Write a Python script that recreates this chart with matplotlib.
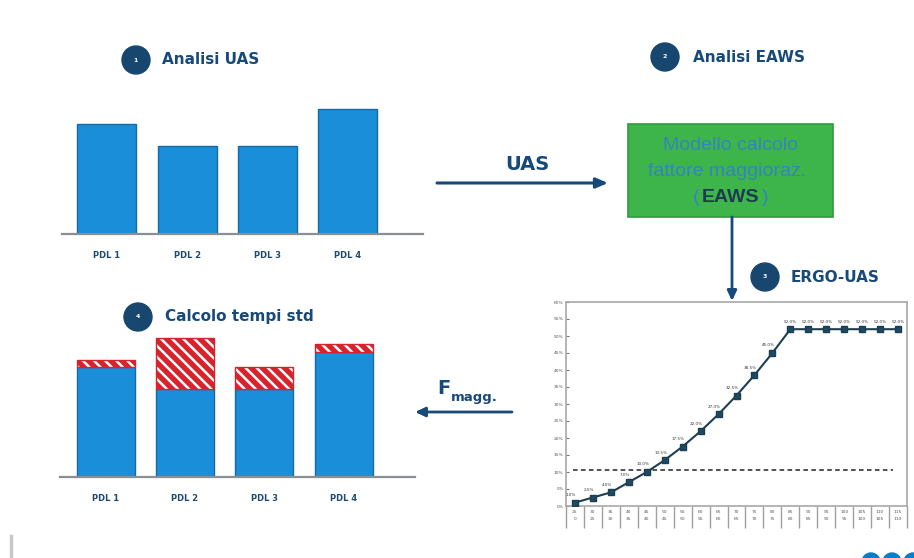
import matplotlib
matplotlib.use("Agg")
import matplotlib.pyplot as plt
from matplotlib.patches import Circle, Rectangle

W, H = 914, 558

# ---------------- data ----------------
pdl_labels = ["PDL 1", "PDL 2", "PDL 3", "PDL 4"]
uas_values = [110, 88, 88, 125]          # step 1 bars (UAS time)
extra_values = [7, 51, 22, 8]            # step 4 increase from F magg.

curve_top = [25, 30, 35, 40, 45, 50, 55, 60, 65, 70, 75, 80, 85, 90, 95, 100, 105, 110, 115]
curve_bottom = [0, 25, 30, 35, 40, 45, 50, 55, 60, 65, 70, 75, 80, 85, 90, 95, 100, 105, 110]
curve_values = [1.0, 2.5, 4.0, 7.0, 10.0, 13.5, 17.5, 22.0, 27.0, 32.5, 38.5, 45.0,
                52.0, 52.0, 52.0, 52.0, 52.0, 52.0, 52.0]
threshold = 10.5
y_ticks = list(range(0, 61, 5))

NAVY = "#17497a"
BLUE = "#1a8ed8"
BLUE_EDGE = "#156aa8"
RED = "#d6232c"
GREEN = "#3db54a"
BOX_TXT = "#3584bd"

plt.rcParams["font.family"] = ["DejaVu Sans"]
plt.rcParams["hatch.linewidth"] = 1.8

fig = plt.figure(figsize=(W / 100, H / 100), dpi=100)
fig.patch.set_facecolor("white")


def ax_px(x0, y0, x1, y1, **kw):
    return fig.add_axes([x0 / W, 1 - y1 / H, (x1 - x0) / W, (y1 - y0) / H], **kw)


# overlay for annotations
ov = ax_px(0, 0, W, H)
ov.set_xlim(0, W)
ov.set_ylim(H, 0)
ov.axis("off")
ov.set_zorder(0)


def step_title(cx, cy, num, text, tx, fs=11):
    ov.add_patch(Circle((cx, cy), 14, color="#17466f", zorder=3))
    ov.text(cx, cy, str(num), color="white", fontsize=4.5, ha="center", va="center",
            fontweight="bold", zorder=4)
    ov.text(tx, cy, text, color=NAVY, fontsize=fs, ha="left", va="center",
            fontweight="bold", zorder=4)


step_title(136, 60, 1, "Analisi UAS", 162)
step_title(665, 57, 2, "Analisi EAWS", 693)
step_title(765, 277, 3, "ERGO-UAS", 791)
step_title(138, 317, 4, "Calcolo tempi std", 165)

# UAS arrow
ov.annotate("", xy=(608, 183), xytext=(437, 183),
            arrowprops=dict(arrowstyle="-|>,head_length=0.7,head_width=0.3",
                            color=NAVY, lw=2.2, shrinkA=0, shrinkB=0))
ov.text(527, 165, "UAS", color=NAVY, fontsize=14, fontweight="bold",
        ha="center", va="center")

# green box
ov.add_patch(Rectangle((628, 124), 205, 93, facecolor=GREEN, edgecolor="#2f9a3d",
                       lw=1.2, zorder=2))
box_font = ["Liberation Sans", "DejaVu Sans"]
ov.text(730.5, 146, "Modello calcolo", color=BOX_TXT, fontsize=14,
        family=box_font, ha="center", va="center", zorder=3)
ov.text(727, 172, "fattore maggioraz.", color=BOX_TXT, fontsize=14,
        family=box_font, ha="center", va="center", zorder=3)
ov.text(696, 198, "(", color=BOX_TXT, fontsize=14, family=box_font,
        ha="center", va="center", zorder=3)
ov.text(730.5, 198, "EAWS", color="#1d3b4e", fontsize=14, family=box_font,
        fontweight="bold", ha="center", va="center", zorder=3)
ov.text(765, 198, ")", color=BOX_TXT, fontsize=14, family=box_font,
        ha="center", va="center", zorder=3)

# vertical arrow
ov.annotate("", xy=(732, 301), xytext=(732, 217),
            arrowprops=dict(arrowstyle="-|>,head_length=0.6,head_width=0.28",
                            color=NAVY, lw=2.0, shrinkA=0, shrinkB=0))

# F magg arrow
ov.annotate("", xy=(415, 412), xytext=(512, 412),
            arrowprops=dict(arrowstyle="-|>,head_length=0.6,head_width=0.28",
                            color=NAVY, lw=2.0, shrinkA=0, shrinkB=0))
ov.text(437, 388, "F", color=NAVY, fontsize=14, fontweight="bold", ha="left", va="center")
ov.text(451, 398, "magg.", color=NAVY, fontsize=9.5, fontweight="bold", ha="left", va="center")

# logo fragment and side mark
for cx in (871, 892, 913):
    ov.add_patch(Circle((cx, 562), 9, color="#0b7dc8", zorder=2))
ov.plot([11, 11], [536, 558], color="#c8c8c8", lw=2.5)


def style_bar_axes(ax):
    for s in ("top", "right", "left"):
        ax.spines[s].set_visible(False)
    ax.spines["bottom"].set_color("#8a8f94")
    ax.spines["bottom"].set_linewidth(1.6)
    ax.set_yticks([])
    ax.set_xticks(range(len(pdl_labels)))
    ax.set_xticklabels(pdl_labels, fontsize=6, fontweight="bold", color="#1f4a70")
    ax.tick_params(axis="x", length=0, pad=12)
    ax.patch.set_alpha(0)


# ---------- chart 1 ----------
ax1 = ax_px(62, 100, 423, 234)
x = list(range(len(pdl_labels)))
ax1.bar(x, uas_values, width=0.735, color=BLUE, edgecolor=BLUE_EDGE, lw=1)
ax1.set_xlim(-0.56, 3.935)
ax1.set_ylim(0, 134)
style_bar_axes(ax1)

# ---------- chart 4 ----------
ax4 = ax_px(60, 330, 415, 477)
ax4.bar(x, uas_values, width=0.73, color=BLUE, edgecolor=BLUE_EDGE, lw=1)
ax4.bar(x, extra_values, bottom=uas_values, width=0.73, color=RED,
        edgecolor="white", lw=0, hatch="\\\\\\")
ax4.bar(x, extra_values, bottom=uas_values, width=0.73, fill=False,
        edgecolor=RED, lw=1)
ax4.set_xlim(-0.574, 3.90)
ax4.set_ylim(0, 147)
style_bar_axes(ax4)

# ---------- chart 3 (ERGO-UAS curve) ----------
ax3 = ax_px(566, 302, 907, 506)
n = len(curve_values)
xc = list(range(n))
ax3.plot(xc, curve_values, color="#1d3e52", lw=1.5, marker="s", markersize=4.5,
         markerfacecolor="#1d4a60", markeredgecolor="#1d3e52", zorder=3)
ax3.axhline(threshold, xmin=0.02, xmax=0.96, color="#222222", lw=1.1,
            ls=(0, (3, 2.2)), zorder=2)
for i, v in enumerate(curve_values):
    if i < 12:
        ax3.annotate(f"{v:.1f}%", (i, v), xytext=(-3, 4), textcoords="offset points",
                     fontsize=3, color="#333333", ha="center", va="bottom")
    else:
        ax3.annotate(f"{v:.1f}%", (i, v), xytext=(0, 4), textcoords="offset points",
                     fontsize=3, color="#333333", ha="center", va="bottom")
ax3.set_xlim(-0.5, n - 0.5)
ax3.set_ylim(0, 60)
ax3.set_yticks(y_ticks)
ax3.set_yticklabels([f"{v}%" for v in y_ticks], fontsize=3.2, color="#555555")
ax3.tick_params(axis="y", length=2, width=0.8, direction="in", pad=2, colors="#777777",
                labelcolor="#555555")
ax3.set_xticks(xc)
ax3.set_xticklabels([f"{t}\n{b}" for t, b in zip(curve_top, curve_bottom)],
                    fontsize=3.2, color="#555555", linespacing=2.0)
ax3.tick_params(axis="x", which="major", length=0, pad=3)
ax3.set_xticks([i - 0.5 for i in range(n + 1)], minor=True)
ax3.tick_params(axis="x", which="minor", length=16, width=1, color="#a0a0a0",
                direction="out")
for s in ax3.spines.values():
    s.set_color("#a8a8a8")
    s.set_linewidth(1.2)

fig.savefig("out.png", dpi=100, facecolor="white")
